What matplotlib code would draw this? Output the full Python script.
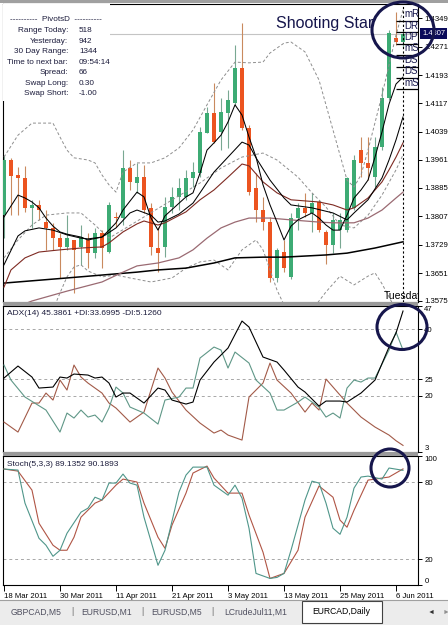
import matplotlib

matplotlib.use("Agg")
import matplotlib.pyplot as plt
from matplotlib.patches import Ellipse, Rectangle
from matplotlib.transforms import blended_transform_factory

plt.rcParams["font.family"] = ["Liberation Sans", "DejaVu Sans"]

# ---- EURCAD daily candles (bar 0 = 18 Mar 2011, bar 57 = 7 Jun 2011) ----
OPEN = [1.3810, 1.3961, 1.3920, 1.3912, 1.3830, 1.3838, 1.3791, 1.3775, 1.3747, 1.3723,
        1.3742, 1.3723, 1.3742, 1.3706, 1.3761, 1.3709, 1.3805, 1.3802, 1.3939, 1.3898,
        1.3914, 1.3830, 1.3720, 1.3723, 1.3832, 1.3860, 1.3860, 1.3912, 1.3925, 1.4035,
        1.4090, 1.4038, 1.4090, 1.4117, 1.4213, 1.4049, 1.3884, 1.3824, 1.3791, 1.3638,
        1.3709, 1.3641, 1.3802, 1.3830, 1.3816, 1.3846, 1.3764, 1.3728, 1.3769, 1.3769,
        1.3830, 1.3988, 1.3953, 1.3914, 1.3997, 1.4131, 1.4295, 1.4284]
HIGH = [1.3975, 1.3967, 1.3942, 1.3945, 1.3852, 1.3852, 1.3824, 1.3789, 1.3761, 1.3810,
        1.3742, 1.3783, 1.3761, 1.3775, 1.3769, 1.3846, 1.3819, 1.3988, 1.3961, 1.3953,
        1.3947, 1.3843, 1.3778, 1.3860, 1.3887, 1.3912, 1.3934, 1.3956, 1.4051, 1.4106,
        1.4172, 1.4131, 1.4153, 1.4276, 1.4336, 1.4057, 1.3925, 1.3860, 1.3805, 1.3720,
        1.3742, 1.3816, 1.3843, 1.3871, 1.3871, 1.3852, 1.3769, 1.3816, 1.3816, 1.3914,
        1.3975, 1.4024, 1.4024, 1.4024, 1.4161, 1.4317, 1.4366, 1.4317]
LOW = [1.3747, 1.3810, 1.3810, 1.3819, 1.3775, 1.3797, 1.3715, 1.3715, 1.3638, 1.3715,
       1.3597, 1.3674, 1.3665, 1.3693, 1.3665, 1.3706, 1.3778, 1.3783, 1.3879, 1.3871,
       1.3816, 1.3701, 1.3654, 1.3695, 1.3816, 1.3824, 1.3852, 1.3887, 1.3914, 1.4035,
       1.4008, 1.3988, 1.3994, 1.4112, 1.4043, 1.3865, 1.3791, 1.3769, 1.3627, 1.3627,
       1.3654, 1.3635, 1.3769, 1.3805, 1.3764, 1.3764, 1.3676, 1.3706, 1.3720, 1.3764,
       1.3824, 1.3914, 1.3906, 1.3887, 1.3988, 1.4125, 1.4276, 1.4270]
CLOSE = [1.3961, 1.3917, 1.3912, 1.3830, 1.3838, 1.3824, 1.3775, 1.3747, 1.3723, 1.3747,
         1.3715, 1.3750, 1.3706, 1.3761, 1.3720, 1.3838, 1.3801, 1.3939, 1.3901, 1.3914,
         1.3824, 1.3723, 1.3706, 1.3832, 1.3860, 1.3884, 1.3912, 1.3928, 1.4038, 1.4090,
         1.4010, 1.4092, 1.4125, 1.4213, 1.4049, 1.3873, 1.3824, 1.3791, 1.3638, 1.3715,
         1.3665, 1.3802, 1.3830, 1.3816, 1.3843, 1.3769, 1.3728, 1.3797, 1.3797, 1.3912,
         1.3961, 1.3953, 1.3939, 1.3997, 1.4131, 1.4309, 1.4284, 1.4307]
CURRENT_PRICE = 1.4307

DATE_TICK_BARS = [0, 8, 16, 24, 32, 40, 48, 56]
DATE_LABELS = ["18 Mar 2011", "30 Mar 2011", "11 Apr 2011", "21 Apr 2011",
               "3 May 2011", "13 May 2011", "25 May 2011", "6 Jun 2011"]

PRICE_TICKS = [1.4349, 1.4271, 1.4193, 1.4117, 1.4039, 1.3961, 1.3885,
               1.3807, 1.3729, 1.3651, 1.3575]

# moving averages (bar index, price)
MA_FAST_T = [0, 2, 3, 4, 5, 6, 7, 8, 9, 11, 12, 14, 15, 16, 17, 19, 20, 21, 22, 23, 26, 27,
             28, 29, 30, 31, 32, 33, 34, 35, 36, 37, 38, 39, 40, 41, 42, 44, 45, 46, 47, 48,
             49, 50, 51, 52, 53, 54, 55, 56, 57]
MA_FAST = [1.3805, 1.3865, 1.3857, 1.3846, 1.3830, 1.3802, 1.3780, 1.3764, 1.3758, 1.3750,
           1.3742, 1.3750, 1.3769, 1.3789, 1.3824, 1.3873, 1.3860, 1.3802, 1.3769, 1.3808,
           1.3860, 1.3871, 1.3925, 1.3988, 1.4008, 1.4029, 1.4065, 1.4112, 1.4084, 1.4024,
           1.3969, 1.3893, 1.3838, 1.3791, 1.3742, 1.3780, 1.3797, 1.3816, 1.3802, 1.3783,
           1.3769, 1.3769, 1.3810, 1.3857, 1.3879, 1.3906, 1.3969, 1.4038, 1.4114, 1.4169,
           1.4188]
MA_MID_T = [0, 2, 3, 5, 7, 9, 11, 12, 14, 16, 18, 19, 21, 22, 23, 25, 27, 28, 30, 32, 34,
            35, 36, 38, 40, 41, 44, 47, 49, 50, 52, 54, 55, 56, 57]
MA_MID = [1.3674, 1.3753, 1.3767, 1.3775, 1.3769, 1.3756, 1.3747, 1.3745, 1.3750, 1.3775,
          1.3816, 1.3824, 1.3810, 1.3791, 1.3794, 1.3813, 1.3843, 1.3871, 1.3928, 1.3969,
          1.4010, 1.4002, 1.3967, 1.3906, 1.3857, 1.3838, 1.3830, 1.3816, 1.3797, 1.3816,
          1.3852, 1.3912, 1.3961, 1.4016, 1.4079]
MA_RED_T = [0, 1, 3, 5, 8, 11, 14, 15, 17, 19, 20, 22, 23, 26, 28, 30, 32, 34, 35, 37, 39,
            41, 45, 47, 49, 50, 52, 54, 55, 56, 57]
MA_RED = [1.3613, 1.3660, 1.3693, 1.3709, 1.3715, 1.3720, 1.3723, 1.3734, 1.3764, 1.3786,
          1.3794, 1.3783, 1.3789, 1.3819, 1.3852, 1.3879, 1.3914, 1.3950, 1.3945, 1.3901,
          1.3871, 1.3852, 1.3846, 1.3838, 1.3824, 1.3830, 1.3857, 1.3901, 1.3934, 1.3969,
          1.4008]
MA_ROSE_T = [0, 4, 9, 14, 17, 19, 22, 25, 27, 29, 31, 33, 35, 38, 41, 45, 47, 50, 52, 54,
             56, 57]
MA_ROSE = [1.3545, 1.3575, 1.3602, 1.3627, 1.3654, 1.3671, 1.3679, 1.3693, 1.3715, 1.3747,
           1.3775, 1.3791, 1.3802, 1.3802, 1.3797, 1.3791, 1.3789, 1.3789, 1.3802, 1.3824,
           1.3857, 1.3873]
MA_SLOW_T = [0, 9, 14, 19, 22, 26, 30, 33, 37, 40, 46, 49, 53, 57]
MA_SLOW = [1.3624, 1.3638, 1.3646, 1.3654, 1.3660, 1.3665, 1.3679, 1.3693, 1.3695, 1.3695,
           1.3701, 1.3706, 1.3720, 1.3737]

# bands (dashed grey)
BAND_UP_T = [0, 2, 4, 7, 8, 9, 10, 12, 13, 14, 15, 16, 17, 19, 21, 23, 25, 27, 29, 31, 33,
             35, 37, 38, 40, 41, 43, 45, 47, 49, 50, 51, 52, 54, 55, 56, 57]
BAND_UP = [1.3969, 1.4029, 1.4062, 1.4062, 1.4024, 1.3988, 1.3967, 1.3961, 1.3953, 1.3920,
           1.3893, 1.3873, 1.3928, 1.3953, 1.3953, 1.3967, 1.3994, 1.4043, 1.4112, 1.4180,
           1.4229, 1.4227, 1.4229, 1.4254, 1.4281, 1.4284, 1.4257, 1.4180, 1.4043, 1.3906,
           1.3887, 1.3920, 1.3988, 1.4139, 1.4221, 1.4303, 1.4372]
BAND_LO_T = [7, 8, 9, 10, 11, 12, 14, 16, 18, 21, 24, 26, 28, 30, 32, 34, 36, 37, 39, 40,
             42, 44, 46, 48, 50, 52, 53, 54, 55, 56, 57]
BAND_LO = [1.3550, 1.3597, 1.3641, 1.3668, 1.3674, 1.3657, 1.3641, 1.3646, 1.3638, 1.3627,
           1.3638, 1.3665, 1.3682, 1.3687, 1.3660, 1.3715, 1.3742, 1.3715, 1.3605, 1.3564,
           1.3537, 1.3550, 1.3600, 1.3643, 1.3619, 1.3643, 1.3652, 1.3622, 1.3586, 1.3550,
           1.3517]
BAND_IN_T = [0, 2, 4, 6, 9, 11, 13, 15, 28, 31, 34, 37, 39, 42, 44, 46, 48, 50, 52, 54, 56,
             57]
BAND_IN = [1.3693, 1.3742, 1.3783, 1.3810, 1.3816, 1.3816, 1.3783, 1.3747, 1.3898, 1.3939,
           1.3969, 1.3980, 1.3961, 1.3914, 1.3871, 1.3832, 1.3783, 1.3775, 1.3810, 1.3865,
           1.3934, 1.3975]

PIVOT_START_BAR = 56
PIVOT_LEVELS = [1.4342, 1.4311, 1.4279, 1.4249, 1.4216, 1.4186, 1.4155]
PIVOT_LABELS = ["mR2", "DR1", "DP", "mS1", "DS1", "DS2", "mS3"]

INFO_KEYS = ["Range Today:", "Yesterday:", "30 Day Range:", "Time to next bar:",
             "Spread:", "Swap Long:", "Swap Short:"]
INFO_VALUES = ["518", "942", "1344", "09:54:14", "66", "0.30", "-1.00"]

# ADX(14)
ADX_T = [0, 2, 4, 5, 7, 8, 9, 10, 12, 13, 14, 15, 16, 17, 18, 20, 22, 23, 24, 26, 27, 28,
         30, 32, 34, 35, 37, 39, 40, 42, 43, 45, 46, 48, 49, 51, 53, 55, 56, 57]
ADX = [25.3, 28.9, 25.6, 22.3, 22.6, 25.6, 25.3, 26.5, 26.2, 25.3, 25.6, 23.8, 19.6, 20.8,
       20.8, 17.8, 22.3, 21.7, 18.7, 17.5, 18.1, 24.7, 30.1, 34.3, 42.4, 40.6, 31.6, 30.1,
       27.7, 22.6, 21.1, 16.9, 18.4, 18.4, 18.1, 20.8, 24.7, 34.6, 38.8, 45.4]
PDI_T = [0, 1, 3, 6, 8, 9, 10, 11, 12, 13, 14, 15, 16, 17, 18, 20, 22, 23, 25, 26, 27, 28,
         30, 31, 32, 33, 35, 36, 38, 39, 40, 42, 43, 45, 46, 47, 48, 49, 50, 51, 52, 53, 55,
         56, 57]
PDI = [29.2, 24.7, 19.6, 15.7, 9.1, 14.8, 13.3, 15.7, 13.6, 14.2, 12.1, 16.3, 22.6, 20.8,
       16.6, 14.8, 11.5, 18.7, 19.6, 22.3, 22.3, 31.3, 34.6, 33.7, 28.3, 33.1, 29.8, 24.7,
       20.8, 15.7, 15.7, 18.1, 19.6, 16.6, 13.6, 14.8, 13.3, 22.3, 24.7, 24.1, 25.3, 25.3,
       33.7, 39.1, 33.7]
MDI_T = [0, 2, 4, 5, 6, 7, 8, 9, 10, 11, 12, 14, 15, 16, 18, 20, 22, 23, 24, 26, 28, 30, 31,
         32, 34, 35, 36, 37, 38, 39, 41, 43, 44, 45, 46, 47, 49, 51, 53, 55, 56, 57]
MDI = [12.1, 9.1, 17.8, 17.8, 20.8, 18.7, 24.7, 21.7, 29.2, 25.6, 23.8, 20.8, 17.8, 16.3,
       12.1, 15.1, 28.3, 25.3, 21.1, 15.7, 11.8, 8.8, 9.7, 8.2, 6.7, 19.6, 21.7, 23.8, 29.8,
       24.7, 20.8, 15.1, 17.8, 15.7, 25.0, 22.6, 17.8, 13.6, 10.6, 8.2, 6.5, 5.1]

# Stochastic(5,3,3)
STO_K_T = [0, 2, 3, 5, 6, 7, 8, 9, 11, 12, 13, 14, 15, 16, 17, 18, 19, 20, 22, 23, 25, 26,
           27, 29, 30, 32, 33, 34, 35, 36, 38, 39, 40, 41, 43, 44, 45, 46, 47, 48, 49, 50,
           51, 52, 54, 55, 57]
STO_K = [90.1, 89.3, 63.6, 36.3, 30.9, 22.3, 27.0, 40.2, 56.6, 59.7, 68.2, 66.0, 79.2, 79.2,
         86.2, 79.2, 77.6, 52.7, 15.3, 27.0, 72.2, 85.4, 91.6, 91.6, 77.6, 69.8, 77.6, 67.5,
         44.1, 9.0, 5.1, 5.9, 9.0, 27.0, 66.0, 80.7, 79.2, 63.6, 44.1, 39.4, 52.7, 75.3, 83.9,
         84.6, 82.3, 90.9, 89.1]
STO_D_T = [0, 2, 4, 5, 7, 8, 9, 10, 11, 13, 14, 16, 17, 19, 20, 22, 23, 24, 26, 27, 29, 30,
           32, 34, 35, 37, 38, 40, 42, 43, 45, 47, 48, 49, 50, 52, 53, 55, 57]
STO_D = [90.1, 88.5, 73.7, 48.0, 30.9, 27.0, 27.0, 37.1, 52.7, 63.6, 66.0, 77.6, 82.3, 80.0,
         63.6, 37.1, 28.5, 46.5, 71.4, 87.0, 92.4, 83.1, 71.4, 71.4, 54.4, 25.5, 5.1, 9.0,
         27.0, 52.7, 76.9, 68.2, 50.4, 44.9, 58.1, 81.5, 82.3, 83.9, 90.2]

TABS = ["GBPCAD,M5", "EURUSD,M1", "EURUSD,M5", "LCrudeJul11,M1"]
ACTIVE_TAB = "EURCAD,Daily"

# ---- styling ----
GREEN = "#3dab74"
ORANGE = "#ec5420"
GREEN_WICK = "#79a892"
ORANGE_WICK = "#c98a5e"
NAVY = "#16164c"
TEXT = "#1c1c3c"
GRID = "#a8a8a8"
BAND = "#8e8e8e"

W, H = 448, 625
fig = plt.figure(figsize=(W / 100, H / 100), dpi=100)
fig.patch.set_facecolor("white")


def px_axes(y_top, y_bot, x_left=3, x_right=418):
    return fig.add_axes([x_left / W, 1 - y_bot / H, (x_right - x_left) / W,
                         (y_bot - y_top) / H])


ax = px_axes(4, 302)
ax_adx = px_axes(305.7, 452.4)
ax_sto = px_axes(456.3, 585)

XLIM = (-0.14, 59.14)
for a in (ax, ax_adx, ax_sto):
    a.set_xlim(*XLIM)
    a.yaxis.tick_right()
    a.tick_params(axis="y", direction="out", length=3, width=0.7, pad=1.5,
                  labelsize=5.6, colors="black")
    a.tick_params(axis="x", bottom=False, labelbottom=False)
    for s in a.spines.values():
        s.set_color("black")
        s.set_linewidth(0.8)

# ---- main price panel ----
ax.set_ylim(1.35722, 1.43881)
for i in range(len(OPEN)):
    o, h, l, c = OPEN[i], HIGH[i], LOW[i], CLOSE[i]
    up = c >= o
    ax.vlines(i, l, h, color=GREEN_WICK if up else ORANGE_WICK, lw=0.8, zorder=2)
    body = max(abs(c - o), 0.00018)
    ax.bar(i, body, bottom=min(o, c), width=0.62, color=GREEN if up else ORANGE,
           linewidth=0, zorder=3)

dash = (0, (3, 2.2))
ax.plot(BAND_UP_T, BAND_UP, color=BAND, lw=0.7, ls=dash, zorder=4)
ax.plot(BAND_LO_T, BAND_LO, color=BAND, lw=0.7, ls=dash, zorder=4)
ax.plot(BAND_IN_T, BAND_IN, color=BAND, lw=0.7, ls=dash, zorder=4)
ax.plot(MA_SLOW_T, MA_SLOW, color="black", lw=1.1, zorder=5)
ax.plot(MA_ROSE_T, MA_ROSE, color="#9a6a72", lw=0.9, zorder=5)
ax.plot(MA_RED_T, MA_RED, color="#7e2a22", lw=0.8, zorder=5)
ax.plot(MA_MID_T, MA_MID, color="black", lw=0.75, zorder=5)
ax.plot(MA_FAST_T, MA_FAST, color="black", lw=0.75, zorder=5)

ax.axhline(CURRENT_PRICE, color="#c4c4c4", lw=0.8, zorder=1)
ax.axvline(len(OPEN) - 1, color="black", lw=0.8, ls=(0, (2, 2)), zorder=6)
ax.hlines(PIVOT_LEVELS, PIVOT_START_BAR, XLIM[1], color="black", lw=0.9, zorder=6)
for lv, lab in zip(PIVOT_LEVELS, PIVOT_LABELS):
    ax.text(57.2, lv + 0.0004, lab, fontsize=7, color=NAVY, va="bottom", ha="left",
            clip_on=True, zorder=7)

ax.set_yticks(PRICE_TICKS)
ax.set_yticklabels([f"{v:.4f}" for v in PRICE_TICKS])
trans = blended_transform_factory(ax.transAxes, ax.transData)
ax.text(1.01, CURRENT_PRICE, f"{CURRENT_PRICE:.4f}", transform=trans, fontsize=5.4,
        color="white", va="center", ha="left", clip_on=False, zorder=8,
        bbox=dict(boxstyle="square,pad=0.25", fc="#0a0a5a", ec="none"))

ax.text(0.657, 0.935, "Shooting Star", transform=ax.transAxes, fontsize=11.5,
        color=NAVY, ha="left", va="center", zorder=8)
ax.text(0.917, 0.004, "Tuesday", transform=ax.transAxes, fontsize=7.5, color="black",
        ha="left", va="bottom", clip_on=True, zorder=8)

# PivotsD info block
ax.add_patch(Rectangle((0, 0.675), 0.258, 0.325, transform=ax.transAxes, fc="white",
                       ec="none", zorder=6))
ax.text(0.128, 0.947, "----------  PivotsD  ----------", transform=ax.transAxes,
        fontsize=5.9, color=TEXT, ha="center", va="center", zorder=7)
for k, (key, val) in enumerate(zip(INFO_KEYS, INFO_VALUES)):
    yy = 0.911 - k * 0.0353
    ax.text(0.157, yy, key, transform=ax.transAxes, fontsize=5.9, color=TEXT,
            ha="right", va="center", zorder=7)
    ax.text(0.183, yy, val, transform=ax.transAxes, fontsize=5.9, color=TEXT,
            ha="left", va="center", zorder=7)

# ---- ADX panel ----
ax_adx.set_ylim(3, 47)
for lv in (40, 25, 20):
    ax_adx.axhline(lv, color=GRID, lw=0.7, ls=(0, (3, 3)), zorder=1)
ax_adx.plot(MDI_T, MDI, color="#a25a48", lw=0.8, zorder=3)
ax_adx.plot(PDI_T, PDI, color="#5f9787", lw=0.8, zorder=3)
ax_adx.plot(ADX_T, ADX, color="black", lw=0.8, zorder=4)
ax_adx.set_yticks([47, 40, 25, 20, 3])
ax_adx.set_yticklabels(["47", "40", "25", "20", "3"])
lbls = ax_adx.get_yticklabels()
lbls[0].set_va("top")
lbls[-1].set_va("bottom")
ax_adx.text(0.01, 0.945, "ADX(14) 45.3861 +DI:33.6995 -DI:5.1260",
            transform=ax_adx.transAxes, fontsize=6, color=TEXT, ha="left", va="center")

# ---- Stochastic panel ----
ax_sto.set_ylim(0, 100)
for lv in (80, 20):
    ax_sto.axhline(lv, color=GRID, lw=0.7, ls=(0, (3, 3)), zorder=1)
ax_sto.plot(STO_D_T, STO_D, color="#b05545", lw=0.8, zorder=3)
ax_sto.plot(STO_K_T, STO_K, color="#4f968a", lw=0.8, zorder=4)
ax_sto.set_yticks([100, 80, 20, 0])
ax_sto.set_yticklabels(["100", "80", "20", "0"])
lbls = ax_sto.get_yticklabels()
lbls[0].set_va("top")
lbls[-1].set_va("bottom")
ax_sto.text(0.01, 0.935, "Stoch(5,3,3) 89.1352 90.1893", transform=ax_sto.transAxes,
            fontsize=6, color=TEXT, ha="left", va="center")
ax_sto.set_xticks(DATE_TICK_BARS)
ax_sto.set_xticklabels(DATE_LABELS)
ax_sto.tick_params(axis="x", bottom=True, labelbottom=True, direction="out", length=4,
                   width=0.7, pad=2, labelsize=5.6)
for t in ax_sto.get_xticklabels():
    t.set_ha("left")

# ---- window chrome: separators, tabs, circles ----
ov = fig.add_axes([0, 0, 1, 1], zorder=10)
ov.set_xlim(0, W)
ov.set_ylim(H, 0)
ov.axis("off")
ov.patch.set_alpha(0)
ov.add_patch(Rectangle((0, 0), W, 3, fc="#a0a0a0", ec="none"))
ov.add_patch(Rectangle((3, 302), 415, 3.7, fc="#9a9a9a", ec="none"))
ov.add_patch(Rectangle((3, 452.4), 415, 3.9, fc="#9a9a9a", ec="none"))
ov.add_patch(Rectangle((0, 600), W, 25, fc="#ececec", ec="none"))
ov.plot([0, W], [600, 600], color="#a0a0a0", lw=0.8)
tab_x = [36, 107, 177, 256]
for k, (tx, name) in enumerate(zip(tab_x, TABS)):
    ov.text(tx, 612, name, fontsize=6.2, color="#505060", ha="center", va="center")
    if k < len(TABS) - 1:
        ov.text(tx + 36 if k == 0 else tx + 35, 612, "|", fontsize=6.5, color="#707070",
                ha="center", va="center")
ov.add_patch(Rectangle((302, 600.5), 80, 22, fc="white", ec="#404040", lw=0.8))
ov.text(341, 612, ACTIVE_TAB, fontsize=6.2, color="black", ha="center", va="center")
ov.text(431, 612, "\u25c4", fontsize=5, color="#303030", ha="center", va="center")
ov.text(446, 612, "\u25ba", fontsize=5, color="#909090", ha="center", va="center")

for (cx, cy, ew, eh) in [(403, 30, 62, 56), (402, 327, 50, 45), (390, 468, 38, 38)]:
    ov.add_patch(Ellipse((cx, cy), ew, eh, fc="none", ec=NAVY, lw=2.2))

fig.savefig("out.png", dpi=100)
